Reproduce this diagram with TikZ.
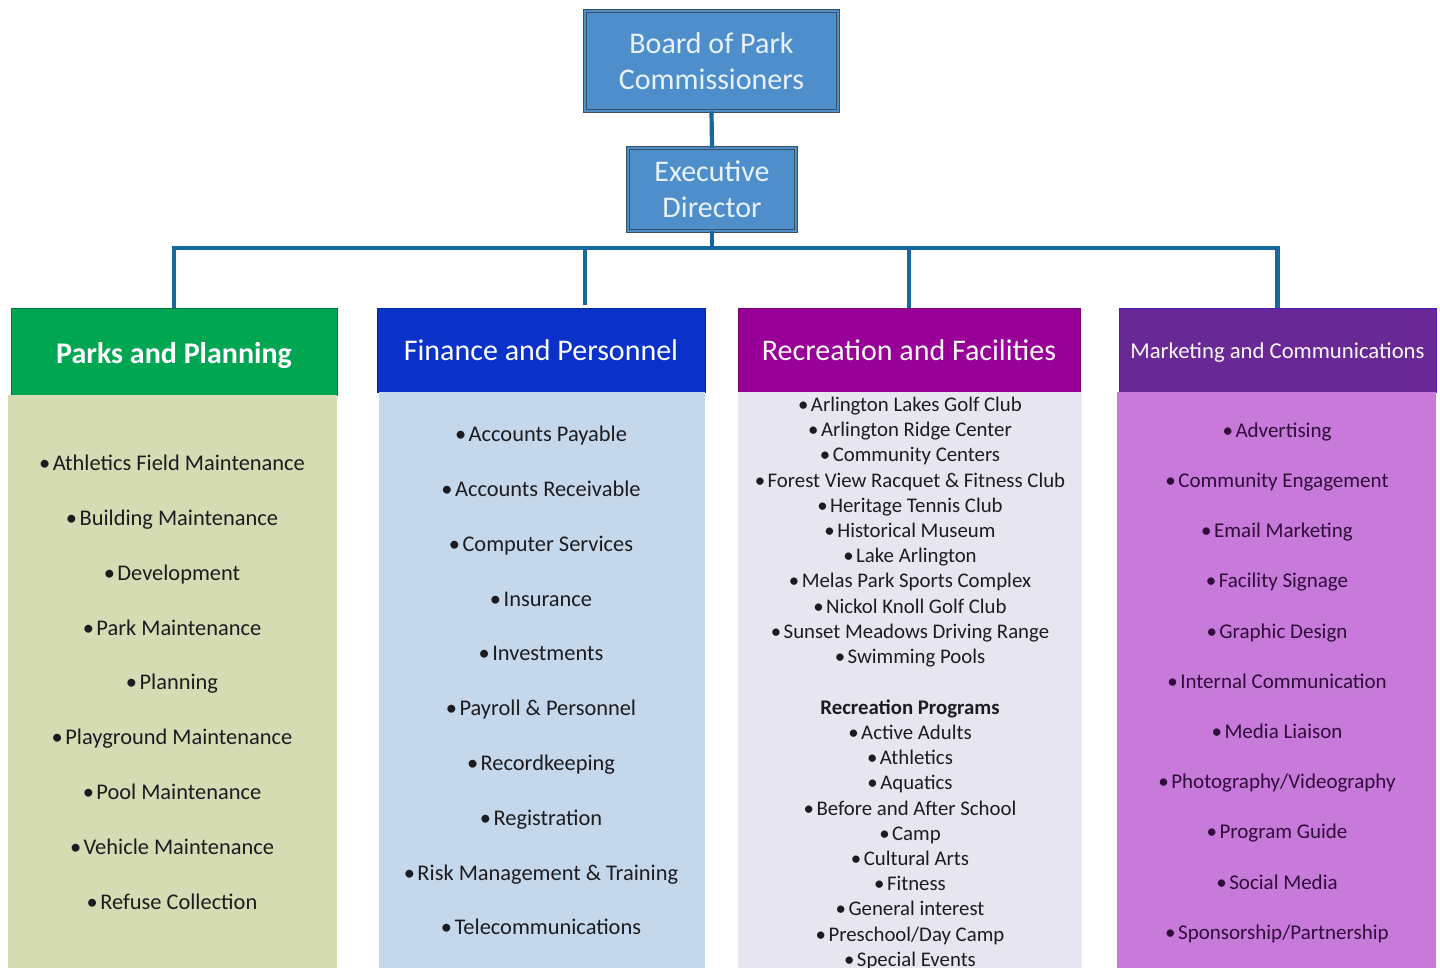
\documentclass[tikz,border=0pt]{standalone}
\usepackage{fontspec}
\setmainfont{Carlito}
\usetikzlibrary{positioning}
\definecolor{boardblue}{RGB}{78,142,202}
\definecolor{boardedge}{RGB}{58,78,98}
\definecolor{boardtext}{RGB}{232,242,252}
\definecolor{linkblue}{RGB}{22,104,158}
\definecolor{parksgreen}{RGB}{0,166,81}
\definecolor{parksbody}{RGB}{213,219,178}
\definecolor{finblue}{RGB}{10,50,200}
\definecolor{finbody}{RGB}{197,215,234}
\definecolor{recpurple}{RGB}{152,0,152}
\definecolor{recbody}{RGB}{230,229,240}
\definecolor{mktpurple}{RGB}{104,40,150}
\definecolor{mktbody}{RGB}{199,122,218}
\definecolor{itemtext}{RGB}{28,28,32}
\definecolor{mkttext}{RGB}{48,12,58}
\newcommand\bul{\textbullet\hspace{2.5pt}}
\tikzset{
  topbox/.style={draw=boardedge, double=boardblue, double distance=2.6pt, line width=0.9pt,
    fill=boardblue, text=boardtext, align=center, inner sep=0pt,
    font=\fontsize{30}{36}\selectfont},
  headbox/.style={inner sep=0pt, text=white, font=\fontsize{30}{36}\selectfont},
  bodybox/.style={inner sep=0pt, draw=none},
  itemlist/.style={align=center, anchor=north, inner sep=0pt, text=itemtext},
  link/.style={draw=linkblue, line width=4.2pt}
}
\begin{document}
\begin{tikzpicture}[x=1pt,y=-1pt]
			%%%%% FRAME %%%%%
			\useasboundingbox[fill=white] (0,0) rectangle (1440,967);
			
			%%%%% TOP %%%%%
			\node[topbox, minimum width=253pt, minimum height=100pt] (board) at (711.5,61) {Board of Park\\Commissioners};
			\node[topbox, minimum width=168pt, minimum height=83pt] (exec) at (712,189.5) {Executive\\Director};
			
			%%%%% DIVISIONS %%%%%
			\node[headbox, fill=parksgreen, draw=parksgreen!70!black, minimum width=326pt, minimum height=87pt, text height=28.5pt, font=\fontsize{30}{36}\selectfont\bfseries] (parks) at (174,351.5) {Parks and Planning};
			\node[headbox, fill=finblue, draw=finblue!80!black, minimum width=328pt, minimum height=84pt] (fin) at (541,350) {Finance and Personnel};
			\node[headbox, fill=recpurple, draw=recpurple!80!black, minimum width=342pt, minimum height=84pt, text=white!92!pink] (rec) at (909,350) {Recreation and Facilities};
			\node[headbox, fill=mktpurple, draw=mktpurple!70!blue, minimum width=317pt, minimum height=84pt, text height=21pt, font=\fontsize{22.7}{28}\selectfont, text=white!90!pink] (mkt) at (1277.5,350) {Marketing and Communications};
			
			\node[bodybox, fill=parksbody, minimum width=329pt, minimum height=580pt, anchor=north] (parksbox) at (172.5,395) {};
			\node[bodybox, fill=finbody, minimum width=326pt, minimum height=580pt, anchor=north] (finbox) at (542,392) {};
			\node[bodybox, fill=recbody, minimum width=344pt, minimum height=580pt, anchor=north] (recbox) at (910,392) {};
			\node[bodybox, fill=mktbody, minimum width=319pt, minimum height=580pt, anchor=north] (mktbox) at (1276.5,392) {};
			
			%%%%% LINKS %%%%%
			\coordinate (bus) at (712,248);
			\coordinate (finlink) at (585,305);
			\draw[link] (board.south) -- (exec.north);
			\draw[link] (exec.south) -- (bus);
			\draw[link] (parks.north) |- (bus) -| (mkt.north);
			\draw[link] (finlink) -- (finlink |- bus);
			\draw[link] (rec.north) -- (rec.north |- bus);
			
			%%%%% LISTS %%%%%
			\node[itemlist, font=\fontsize{22.4}{54.8}\selectfont] (parkslist) at (172,455) {%
				\bul Athletics Field Maintenance\\ \bul Building Maintenance\\ \bul Development\\
				\bul Park Maintenance\\ \bul Planning\\ \bul Playground Maintenance\\
				\bul Pool Maintenance\\ \bul Vehicle Maintenance\\ \bul Refuse Collection};
			\node[itemlist, font=\fontsize{22.4}{54.8}\selectfont] (finlist) at (541,426) {%
				\bul Accounts Payable\\ \bul Accounts Receivable\\ \bul Computer Services\\
				\bul Insurance\\ \bul Investments\\ \bul Payroll \& Personnel\\
				\bul Recordkeeping\\ \bul Registration\\ \bul Risk Management \& Training\\
				\bul Telecommunications};
			\node[itemlist, font=\fontsize{20.8}{25.23}\selectfont] (reclist) at (910,396.7) {%
				\bul Arlington Lakes Golf Club\\ \bul Arlington Ridge Center\\ \bul Community Centers\\
				\bul Forest View Racquet \& Fitness Club\\ \bul Heritage Tennis Club\\
				\bul Historical Museum\\ \bul Lake Arlington\\ \bul Melas Park Sports Complex\\
				\bul Nickol Knoll Golf Club\\ \bul Sunset Meadows Driving Range\\ \bul Swimming Pools\\[25.23pt]
				\textbf{Recreation Programs}\\ \bul Active Adults\\ \bul Athletics\\ \bul Aquatics\\
				\bul Before and After School\\ \bul Camp\\ \bul Cultural Arts\\ \bul Fitness\\
				\bul General interest\\ \bul Preschool/Day Camp\\ \bul Special Events};
			\node[itemlist, text=mkttext, font=\fontsize{21}{50.2}\selectfont] (mktlist) at (1277,422.5) {%
				\bul Advertising\\ \bul Community Engagement\\ \bul Email Marketing\\
				\bul Facility Signage\\ \bul Graphic Design\\ \bul Internal Communication\\
				\bul Media Liaison\\ \bul Photography/Videography\\ \bul Program Guide\\
				\bul Social Media\\ \bul Sponsorship/Partnership};
			
			%%%%% END %%%%%
\end{tikzpicture}
\end{document}
